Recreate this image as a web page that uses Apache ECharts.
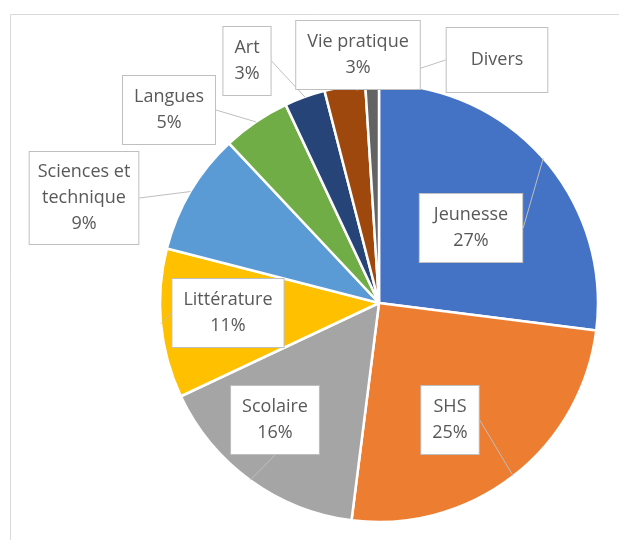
<!DOCTYPE html>
<html>
<head>
<meta charset="utf-8">
<script src="https://cdn.jsdelivr.net/npm/echarts@6/dist/echarts.min.js"></script>
<style>
  html, body { margin: 0; padding: 0; background: #fff; }
  #main { width: 619px; height: 540px; }
</style>
</head>
<body>
<div id="main"></div>
<script>
// répartition par domaine (%)
const categories = ['Jeunesse', 'SHS', 'Scolaire', 'Littérature', 'Sciences et technique', 'Langues', 'Art', 'Vie pratique', 'Divers']
const values = [27, 25, 16, 11, 9, 5, 3, 3, 1]
const colorList = ['#4472C4', '#ED7D31', '#A5A5A5', '#FFC000', '#5B9BD5', '#70AD47', '#264478', '#9E480E', '#636363']

// centre des bulles d'étiquette
const labelPos = {
  'Jeunesse': [471, 228],
  'SHS': [450, 420],
  'Scolaire': [275, 420],
  'Littérature': [228, 313],
  'Sciences et technique': [84, 198],
  'Langues': [169, 110],
  'Art': [247, 61],
  'Vie pratique': [358, 55],
  'Divers': [497, 60],
}
const labelPad = {
  'Jeunesse': [8, 14],
  'Divers': [19, 24],
  'Sciences et technique': [7, 8],
}

const pieData = categories.map((c, i) => ({ name: c, value: values[i] }))

var myChart = echarts.init(document.getElementById('main'))
var option = {
  animation: false,
  color: colorList,
  graphic: [
    {
      type: 'rect',
      shape: { x: 10.5, y: 14.5, width: 700, height: 600 },
      style: { fill: 'none', stroke: '#d9d9d9', lineWidth: 1 },
      silent: true,
      z: -1,
    },
  ],
  series: [
    // les secteurs
    {
      type: 'pie',
      center: [379, 303],
      radius: 219,
      startAngle: 90,
      clockwise: true,
      z: 2,
      itemStyle: {
        borderColor: '#fff',
        borderWidth: 2.5,
      },
      label: { show: false },
      labelLine: { show: false },
      data: pieData,
    },
    // les bulles d'étiquette, par-dessus les secteurs
    {
      type: 'pie',
      center: [379, 303],
      radius: 219,
      startAngle: 90,
      clockwise: true,
      silent: true,
      z: 5,
      avoidLabelOverlap: false,
      itemStyle: {
        color: 'rgba(0,0,0,0)',
        borderWidth: 0,
      },
      label: {
        show: true,
        position: 'outside',
        formatter: function (p) {
          let name = p.name
          if (name === 'Sciences et technique') name = 'Sciences et\ntechnique'
          if (p.name === 'Divers') return name
          return name + '\n' + p.value + '%'
        },
        fontFamily: 'Open Sans',
        fontSize: 18,
        lineHeight: 26,
        color: '#595959',
        backgroundColor: '#fff',
        borderColor: '#bfbfbf',
        borderWidth: 1,
        padding: [8, 11],
        align: 'center',
      },
      labelLine: {
        show: true,
        length: 0,
        length2: 0,
        minTurnAngle: 0,
        maxSurfaceAngle: 180,
        lineStyle: { color: '#bfbfbf', width: 1 },
      },
      labelLayout: function (params) {
        const name = categories[params.dataIndex]
        const pos = labelPos[name]
        return {
          x: pos[0],
          y: pos[1],
          align: 'center',
          verticalAlign: 'middle',
        }
      },
      data: pieData.map((d) => ({
        name: d.name,
        value: d.value,
        label: labelPad[d.name] ? { padding: labelPad[d.name] } : undefined,
      })),
    },
  ],
}

option && myChart.setOption(option)
</script>
</body>
</html>
